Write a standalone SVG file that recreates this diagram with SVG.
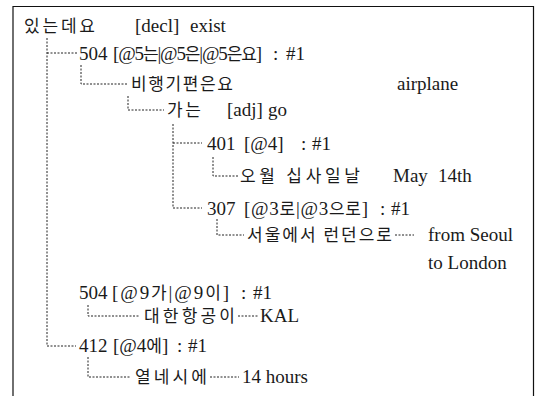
<svg xmlns="http://www.w3.org/2000/svg" width="536" height="396" viewBox="0 0 536 396">
<style>
text{font-family:"Liberation Serif","Noto Sans CJK KR",serif;font-size:19px;fill:#1a1a1a}
.k{font-family:"Noto Sans CJK KR","Liberation Sans",sans-serif;font-size:17px}
.c{fill:none;stroke:#222;stroke-width:1;stroke-dasharray:2 1.5}
.b{fill:none;stroke:#111;stroke-width:1.2}
</style>
<rect width="536" height="396" fill="#fff"/>
<path class="b" d="M13,396 V6.5 H533.5 V396"/>
<g id="connectors">
<path class="c" d="M47,38 V346 H76"/>
<path class="c" d="M47,53 H77"/>
<path class="c" d="M81,65 V84 H127"/>
<path class="c" d="M128,96 V110 H164"/>
<path class="c" d="M173,124 V208 H202"/>
<path class="c" d="M173,143 H202"/>
<path class="c" d="M213,157 V176 H238"/>
<path class="c" d="M217,219 V235 H244"/>
<path class="c" d="M395,235 H414"/>
<path class="c" d="M88,305 V316 H140"/>
<path class="c" d="M238,316 H258"/>
<path class="c" d="M88,357 V377 H131"/>
<path class="c" d="M210,377 H239"/>
</g>
<g id="n1"><text class="k" x="24" y="32" textLength="71" lengthAdjust="spacing">있는데요</text><text x="135" y="32">[decl]</text><text x="190" y="32">exist</text></g>
<g id="n2"><text x="79" y="60">504</text><text x="113" y="60" textLength="149" lengthAdjust="spacing">[@5<tspan class="k">는</tspan>|@5<tspan class="k">은</tspan>|@5<tspan class="k">은요</tspan>]</text><text x="273" y="60">:</text><text x="286" y="60">#1</text></g>
<g id="n3"><text class="k" x="131" y="90" textLength="102" lengthAdjust="spacing">비행기편은요</text><text x="397" y="90">airplane</text></g>
<g id="n4"><text class="k" x="167" y="116" textLength="34" lengthAdjust="spacing">가는</text><text x="227" y="116">[adj]</text><text x="268" y="116">go</text></g>
<g id="n5"><text x="207" y="150">401</text><text x="244" y="150">[@4]</text><text x="301" y="150">:</text><text x="312" y="150">#1</text></g>
<g id="n6"><text class="k" x="240" y="182" textLength="120" lengthAdjust="spacing">오월 십사일날</text><text x="393" y="182">May</text><text x="438" y="182">14th</text></g>
<g id="n7"><text x="207" y="215">307</text><text x="244" y="215" textLength="124" lengthAdjust="spacing">[@3<tspan class="k">로</tspan>|@3<tspan class="k">으로</tspan>]</text><text x="380" y="215">:</text><text x="391" y="215">#1</text></g>
<g id="n8"><text class="k" x="247" y="241" textLength="145" lengthAdjust="spacing">서울에서 런던으로</text><text x="428" y="241">from Seoul</text><text x="428" y="269">to London</text></g>
<g id="n9"><text x="79" y="299">504</text><text x="112" y="299" textLength="117" lengthAdjust="spacing">[@9<tspan class="k">가</tspan>|@9<tspan class="k">이</tspan>]</text><text x="241" y="299">:</text><text x="253" y="299">#1</text></g>
<g id="n10"><text class="k" x="144" y="322" textLength="91" lengthAdjust="spacing">대한항공이</text><text x="260" y="322">KAL</text></g>
<g id="n11"><text x="79" y="352">412</text><text x="113" y="352">[@4<tspan class="k">에</tspan>]</text><text x="177" y="352">:</text><text x="188" y="352">#1</text></g>
<g id="n12"><text class="k" x="135" y="383" textLength="72" lengthAdjust="spacing">열네시에</text><text x="242" y="383">14 hours</text></g>
</svg>
